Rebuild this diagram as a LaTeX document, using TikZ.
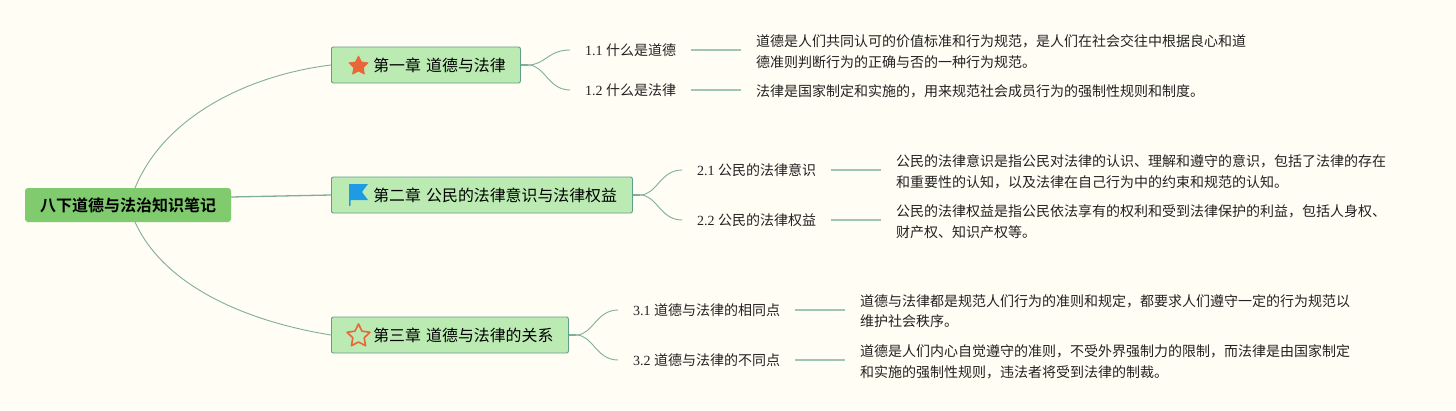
\documentclass[tikz,border=0pt]{standalone}
\usepackage{fontspec}
\setmainfont{Liberation Serif}
\newfontfamily\cjk{Noto Sans CJK SC}
\newfontfamily\cjkb{Noto Sans CJK SC Bold}
\usetikzlibrary{shapes.geometric}
\definecolor{bgc}{HTML}{FFFDF4}
\definecolor{rootc}{HTML}{7FCB6E}
\definecolor{chapc}{HTML}{BBEBB3}
\definecolor{edgec}{HTML}{5F9F8A}
\definecolor{linkc}{HTML}{7FAE9E}
\definecolor{leafc}{HTML}{9FC6B5}
\definecolor{inkc}{HTML}{222222}
\definecolor{orangec}{HTML}{E8663A}
\definecolor{bluec}{HTML}{1E9BE4}
\tikzset{
 x=1pt,y=-1pt,
 rootbox/.style={rectangle,rounded corners=3pt,fill=rootc,minimum width=206pt,minimum height=34pt,inner sep=0pt,font=\fontsize{16}{19}\cjkb,text=black},
 chapbox/.style={rectangle,rounded corners=2pt,draw=edgec,line width=.9pt,fill=chapc,minimum height=36pt,inner sep=0pt,anchor=west,align=left,font=\fontsize{15.9}{18}\cjk,text=black},
 subnode/.style={inner xsep=15pt,inner ysep=0pt,anchor=west,font=\fontsize{14}{17}\selectfont,text=inkc},
 detail/.style={inner xsep=15pt,inner ysep=0pt,anchor=west,align=left,font=\fontsize{14}{20.5}\cjk,text=inkc},
 link/.style={draw=linkc,line width=.9pt},
 leafline/.style={draw=leafc,line width=1.2pt},
 sm/.style={inner sep=0pt,minimum size=0pt},
}
\newcommand{\chaptext}[1]{\hspace*{41.8pt}\raisebox{-.7pt}{#1}}
\begin{document}
\begin{tikzpicture}
\useasboundingbox (0,0) rectangle (1456,410);
\fill[bgc] (0,0) rectangle (1456,410);

\coordinate (rt) at (135,188);
\coordinate (rb) at (135,222);
\coordinate (c1b) at (528,65);
\coordinate (c2b) at (640,195);
\coordinate (c3b) at (576,335);
\coordinate (rr) at (231,197);

\node[rootbox] (root) at (128,205) {八下道德与法治知识笔记};

\node[chapbox,text width=189pt] (c1) at (331,65) {\chaptext{第一章 道德与法律}};
\node[chapbox,text width=301pt] (c2) at (331,195) {\chaptext{第二章 公民的法律意识与法律权益}};
\node[chapbox,text width=237pt] (c3) at (331,335) {\chaptext{第三章 道德与法律的关系}};

\node[star,star points=5,star point ratio=2.0,fill=orangec,draw=orangec,line join=round,line width=.8pt,sm,minimum size=20pt] (i1) at (358.5,66) {};
\node[star,star points=5,star point ratio=2.0,draw=orangec,line width=1.6pt,line join=round,sm,minimum size=24pt] (i3) at (358.5,336) {};
\fill[bluec] (349,184) -- (368,184) -- (362,192) -- (368,200) -- (350.5,200) -- (350.5,205.5) -- (349,206) -- cycle;

\node[subnode] (s11) at (570,50) {1.1 {\cjk 什么是道德}};
\node[subnode] (s12) at (570,90) {1.2 {\cjk 什么是法律}};
\node[subnode] (s21) at (682,170) {2.1 {\cjk 公民的法律意识}};
\node[subnode] (s22) at (682,220) {2.2 {\cjk 公民的法律权益}};
\node[subnode] (s31) at (618,310) {3.1 {\cjk 道德与法律的相同点}};
\node[subnode] (s32) at (618,360) {3.2 {\cjk 道德与法律的不同点}};

\node[detail] (d11) at (741,51.7) {道德是人们共同认可的价值标准和行为规范，是人们在社会交往中根据良心和道\\德准则判断行为的正确与否的一种行为规范。};
\node[detail] (d12) at (741,91.7) {法律是国家制定和实施的，用来规范社会成员行为的强制性规则和制度。};
\node[detail] (d21) at (881,171.7) {公民的法律意识是指公民对法律的认识、理解和遵守的意识，包括了法律的存在\\和重要性的认知，以及法律在自己行为中的约束和规范的认知。};
\node[detail] (d22) at (881,221.7) {公民的法律权益是指公民依法享有的权利和受到法律保护的利益，包括人身权、\\财产权、知识产权等。};
\node[detail] (d31) at (845,311.2) {道德与法律都是规范人们行为的准则和规定，都要求人们遵守一定的行为规范以\\维护社会秩序。};
\node[detail] (d32) at (845,361.7) {道德是人们内心自觉遵守的准则，不受外界强制力的限制，而法律是由国家制定\\和实施的强制性规则，违法者将受到法律的制裁。};

\draw[link] (rt) .. controls (165,115) and (250,75) .. (c1.west);
\draw[link,line width=1.3pt] (rr) -- (c2.west);
\draw[link] (rb) .. controls (165,288) and (250,322) .. (c3.west);

\draw[link,line width=1.5pt] (c1.east) -- (c1b);
\draw[link,line width=1.5pt] (c2.east) -- (c2b);
\draw[link,line width=1.5pt] (c3.east) -- (c3b);
\draw[link] (c1b) .. controls (545,65) and (548,50) .. (s11.west);
\draw[link] (c1b) .. controls (545,65) and (548,90) .. (s12.west);
\draw[link] (c2b) .. controls (657,195) and (660,170) .. (s21.west);
\draw[link] (c2b) .. controls (657,195) and (660,220) .. (s22.west);
\draw[link] (c3b) .. controls (593,335) and (596,310) .. (s31.west);
\draw[link] (c3b) .. controls (593,335) and (596,360) .. (s32.west);

\draw[leafline] (s11.east) -- (s11.east -| d11.west);
\draw[leafline] (s12.east) -- (s12.east -| d12.west);
\draw[leafline] (s21.east) -- (s21.east -| d21.west);
\draw[leafline] (s22.east) -- (s22.east -| d22.west);
\draw[leafline] (s31.east) -- (s31.east -| d31.west);
\draw[leafline] (s32.east) -- (s32.east -| d32.west);
\end{tikzpicture}
\end{document}
